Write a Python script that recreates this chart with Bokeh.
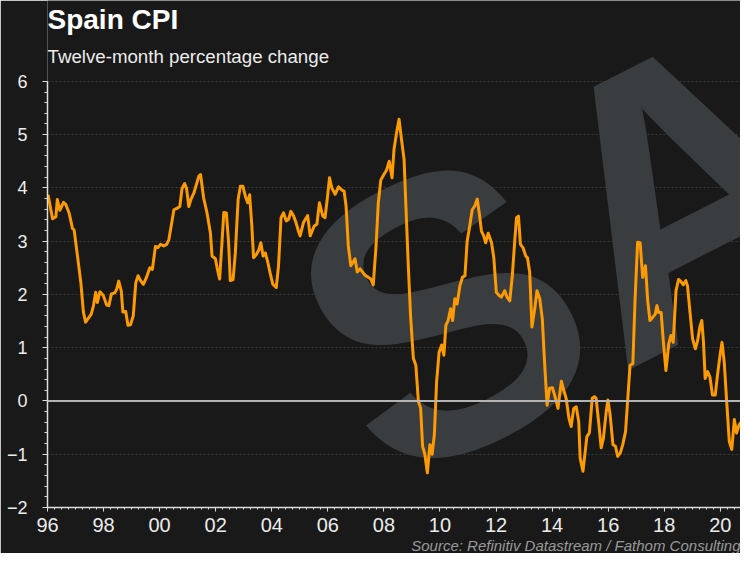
from bokeh.plotting import figure
from bokeh.models import Range1d, SingleIntervalTicker, Span, Label, Title
from bokeh.embed import file_html
from bokeh.resources import INLINE

# Spain CPI, twelve-month % change (dates as decimal years)
dates = [
    1996.02, 1996.18, 1996.30, 1996.35, 1996.44, 1996.57, 1996.65, 1996.77, 1996.89, 1996.95,
    1997.07, 1997.19, 1997.28, 1997.36, 1997.48, 1997.56, 1997.64, 1997.72, 1997.78, 1997.87,
    1997.99, 1998.11, 1998.19, 1998.28, 1998.40, 1998.47, 1998.54, 1998.63, 1998.69, 1998.79,
    1998.87, 1998.96, 1999.06, 1999.15, 1999.23, 1999.32, 1999.42, 1999.53, 1999.65, 1999.74,
    1999.85, 1999.94, 2000.03, 2000.15, 2000.25, 2000.33, 2000.41, 2000.51, 2000.63, 2000.72,
    2000.80, 2000.89, 2000.96, 2001.04, 2001.12, 2001.22, 2001.31, 2001.40, 2001.46, 2001.57,
    2001.69, 2001.81, 2001.87, 2001.99, 2002.05, 2002.14, 2002.23, 2002.29, 2002.38, 2002.46,
    2002.52, 2002.62, 2002.70, 2002.80, 2002.88, 2002.97, 2003.06, 2003.14, 2003.21, 2003.29,
    2003.35, 2003.45, 2003.54, 2003.61, 2003.69, 2003.77, 2003.86, 2003.95, 2004.04, 2004.16,
    2004.24, 2004.33, 2004.42, 2004.52, 2004.60, 2004.68, 2004.78, 2004.87, 2004.95, 2005.01,
    2005.13, 2005.28, 2005.37, 2005.51, 2005.61, 2005.70, 2005.82, 2005.90, 2005.99, 2006.06,
    2006.14, 2006.26, 2006.38, 2006.50, 2006.58, 2006.65, 2006.73, 2006.82, 2006.89, 2006.97,
    2007.05, 2007.15, 2007.24, 2007.33, 2007.45, 2007.53, 2007.62, 2007.72, 2007.80, 2007.89,
    2008.00, 2008.10, 2008.19, 2008.29, 2008.36, 2008.45, 2008.54, 2008.63, 2008.72, 2008.79,
    2008.87, 2008.95, 2009.05, 2009.14, 2009.23, 2009.31, 2009.38, 2009.46, 2009.55, 2009.64,
    2009.72, 2009.80, 2009.88, 2009.97, 2010.06, 2010.14, 2010.21, 2010.29, 2010.38, 2010.45,
    2010.53, 2010.61, 2010.71, 2010.80, 2010.89, 2010.97, 2011.06, 2011.15, 2011.24, 2011.33,
    2011.40, 2011.48, 2011.56, 2011.63, 2011.72, 2011.84, 2011.92, 2012.01, 2012.11, 2012.19,
    2012.31, 2012.39, 2012.49, 2012.58, 2012.67, 2012.73, 2012.80, 2012.87, 2012.96, 2013.06,
    2013.12, 2013.20, 2013.28, 2013.38, 2013.46, 2013.56, 2013.65, 2013.73, 2013.82, 2013.91,
    2014.01, 2014.09, 2014.21, 2014.33, 2014.41, 2014.50, 2014.60, 2014.68, 2014.77, 2014.86,
    2014.95, 2015.00, 2015.10, 2015.18, 2015.24, 2015.33, 2015.43, 2015.51, 2015.57, 2015.67,
    2015.75, 2015.83, 2015.93, 2015.99, 2016.07, 2016.17, 2016.26, 2016.34, 2016.43, 2016.52,
    2016.62, 2016.70, 2016.78, 2016.88, 2016.96, 2017.05, 2017.14, 2017.23, 2017.33, 2017.41,
    2017.49, 2017.59, 2017.68, 2017.74, 2017.80, 2017.89, 2017.97, 2018.06, 2018.16, 2018.24,
    2018.32, 2018.42, 2018.51, 2018.60, 2018.68, 2018.77, 2018.83, 2018.92, 2019.01, 2019.11,
    2019.19, 2019.27, 2019.34, 2019.40, 2019.46, 2019.55, 2019.63, 2019.72, 2019.82, 2019.90,
    2019.99, 2020.06, 2020.14, 2020.22, 2020.32, 2020.41, 2020.50, 2020.58, 2020.67, 2020.76,
]
cpi = [
    3.87, 3.42, 3.46, 3.78, 3.58, 3.73, 3.69, 3.53, 3.24, 3.21,
    2.72, 2.22, 1.67, 1.48, 1.57, 1.63, 1.79, 2.04, 1.85, 2.05,
    1.98, 1.80, 1.79, 2.01, 2.03, 2.10, 2.25, 2.07, 1.67, 1.68,
    1.42, 1.43, 1.60, 2.22, 2.35, 2.26, 2.19, 2.32, 2.50, 2.47,
    2.90, 2.88, 2.94, 2.91, 2.94, 3.03, 3.28, 3.59, 3.62, 3.65,
    3.99, 4.08, 3.99, 3.65, 3.79, 3.90, 4.06, 4.22, 4.25, 3.81,
    3.53, 3.16, 2.72, 2.67, 2.50, 2.29, 3.03, 3.54, 3.53, 2.97,
    2.26, 2.28, 2.78, 3.78, 4.03, 4.03, 3.84, 3.72, 3.87, 3.28,
    2.69, 2.75, 2.84, 2.97, 2.72, 2.78, 2.60, 2.38, 2.19, 2.13,
    2.53, 3.44, 3.53, 3.38, 3.41, 3.56, 3.47, 3.34, 3.19, 3.10,
    3.35, 3.48, 3.10, 3.28, 3.32, 3.72, 3.47, 3.44, 3.84, 4.19,
    4.00, 3.88, 4.02, 3.96, 3.94, 3.66, 2.91, 2.54, 2.60, 2.67,
    2.42, 2.48, 2.42, 2.36, 2.32, 2.29, 2.18, 2.91, 3.72, 4.15,
    4.25, 4.34, 4.50, 4.19, 4.72, 5.03, 5.29, 4.90, 4.53, 3.59,
    2.54, 1.61, 0.80, 0.67, -0.01, -0.13, -0.85, -1.00, -1.35, -0.82,
    -1.00, -0.63, 0.36, 0.92, 1.05, 0.86, 1.42, 1.51, 1.73, 1.51,
    1.92, 1.82, 2.16, 2.32, 2.35, 3.00, 3.28, 3.59, 3.66, 3.79,
    3.53, 3.19, 3.10, 2.97, 3.15, 2.97, 2.69, 2.04, 1.98, 1.95,
    2.07, 1.95, 1.88, 2.35, 3.03, 3.44, 3.47, 2.94, 2.88, 2.72,
    2.69, 2.42, 1.39, 1.73, 2.07, 1.92, 1.54, 0.74, -0.08, 0.24,
    0.25, 0.11, -0.14, 0.37, 0.21, 0.05, -0.32, -0.48, -0.14, -0.11,
    -0.39, -1.07, -1.32, -0.95, -0.67, -0.60, 0.05, 0.08, 0.05, -0.45,
    -0.88, -0.70, -0.20, 0.02, -0.26, -0.82, -0.85, -1.04, -0.98, -0.82,
    -0.57, 0.05, 0.67, 0.70, 1.92, 2.98, 2.97, 2.32, 2.54, 1.88,
    1.51, 1.57, 1.63, 1.79, 1.66, 1.66, 1.10, 0.57, 1.07, 1.23,
    1.10, 2.07, 2.28, 2.24, 2.18, 2.26, 2.16, 1.66, 1.17, 0.98,
    1.13, 1.39, 1.51, 1.10, 0.42, 0.55, 0.45, 0.11, 0.11, 0.49,
    0.86, 1.10, 0.73, 0.05, -0.76, -0.91, -0.35, -0.60, -0.45, -0.39,
]

x_tick_years = [1996, 1998, 2000, 2002, 2004, 2006, 2008, 2010, 2012, 2014, 2016, 2018, 2020]
x_tick_labels = ["96", "98", "00", "02", "04", "06", "08", "10", "12", "14", "16", "18", "20"]
y_axis_min, y_axis_max = -2, 6

title_text = "Spain CPI"
subtitle_text = "Twelve-month percentage change"
source_text = "Source: Refinitiv Datastream / Fathom Consulting"
watermark_text = "SA"

BG = "#191919"
FG = "#ececec"
FONT = "Liberation Sans"

# main chart: frame reaches the top of the canvas (room for the titles), axis limited to -2..6
p = figure(width=740, height=553, output_backend="svg", toolbar_location=None,
           x_range=Range1d(1996, 2020.72), y_range=Range1d(-2, 7.518),
           min_border_left=47, min_border_right=0, min_border_top=0, min_border_bottom=45,
           background_fill_color=BG, border_fill_color=BG, outline_line_color=None)

# watermark
p.add_layout(Label(x=279, y=135, x_units="screen", y_units="screen", text=watermark_text,
                   angle=27, angle_units="deg", text_font=FONT, text_font_style="bold",
                   text_font_size="390px", text_color="#3a3d40", text_baseline="alphabetic",
                   level="image"))

# axes
p.xaxis.ticker = SingleIntervalTicker(interval=2, num_minor_ticks=8)
p.xaxis.major_label_overrides = dict(zip(x_tick_years, x_tick_labels))
p.yaxis.ticker = SingleIntervalTicker(interval=1, num_minor_ticks=5)
p.yaxis.bounds = (y_axis_min, y_axis_max)

for ax in (p.xaxis[0], p.yaxis[0]):
    ax.axis_line_color = "#dcdcdc"
    ax.axis_line_width = 1.5
    ax.major_tick_line_color = "#dcdcdc"
    ax.minor_tick_line_color = "#dcdcdc"
    ax.major_tick_in = 0
    ax.minor_tick_in = 0
    ax.major_label_text_color = FG
    ax.major_label_text_font = FONT

p.yaxis.major_tick_out = 5
p.yaxis.minor_tick_out = 3
p.yaxis.major_label_standoff = 15
p.yaxis.major_label_text_font_size = "18px"

p.xaxis.major_tick_out = 4
p.xaxis.minor_tick_out = 2
p.xaxis.major_label_standoff = 6
p.xaxis.major_label_text_font_size = "20px"

p.xgrid.visible = False
p.ygrid.grid_line_color = "#3a3a3a"
p.ygrid.grid_line_dash = "2 2"
p.ygrid.grid_line_width = 1

p.add_layout(Span(location=0, dimension="width", line_color="#b4b4b4", line_width=2))

p.line(dates, cpi, line_color="#ff9a00", line_width=3, line_join="round")

# title and subtitle (inside the frame's upper part, above the 6 line)
p.add_layout(Label(x=0, y=488, x_units="screen", y_units="screen", text=title_text,
                   text_font=FONT, text_font_style="bold", text_font_size="28px",
                   text_color="#ffffff", text_baseline="alphabetic"))
p.add_layout(Label(x=0, y=451, x_units="screen", y_units="screen", text=subtitle_text,
                   text_font=FONT, text_font_size="18.7px",
                   text_color=FG, text_baseline="alphabetic"))

# source line below the x axis
p.add_layout(Title(text=source_text, align="right", text_font=FONT, text_font_style="italic",
                   text_font_size="15px", text_color="#9a9a9a", standoff=0, offset=0), "below")

open("out.html", "w").write(file_html(p, INLINE))
